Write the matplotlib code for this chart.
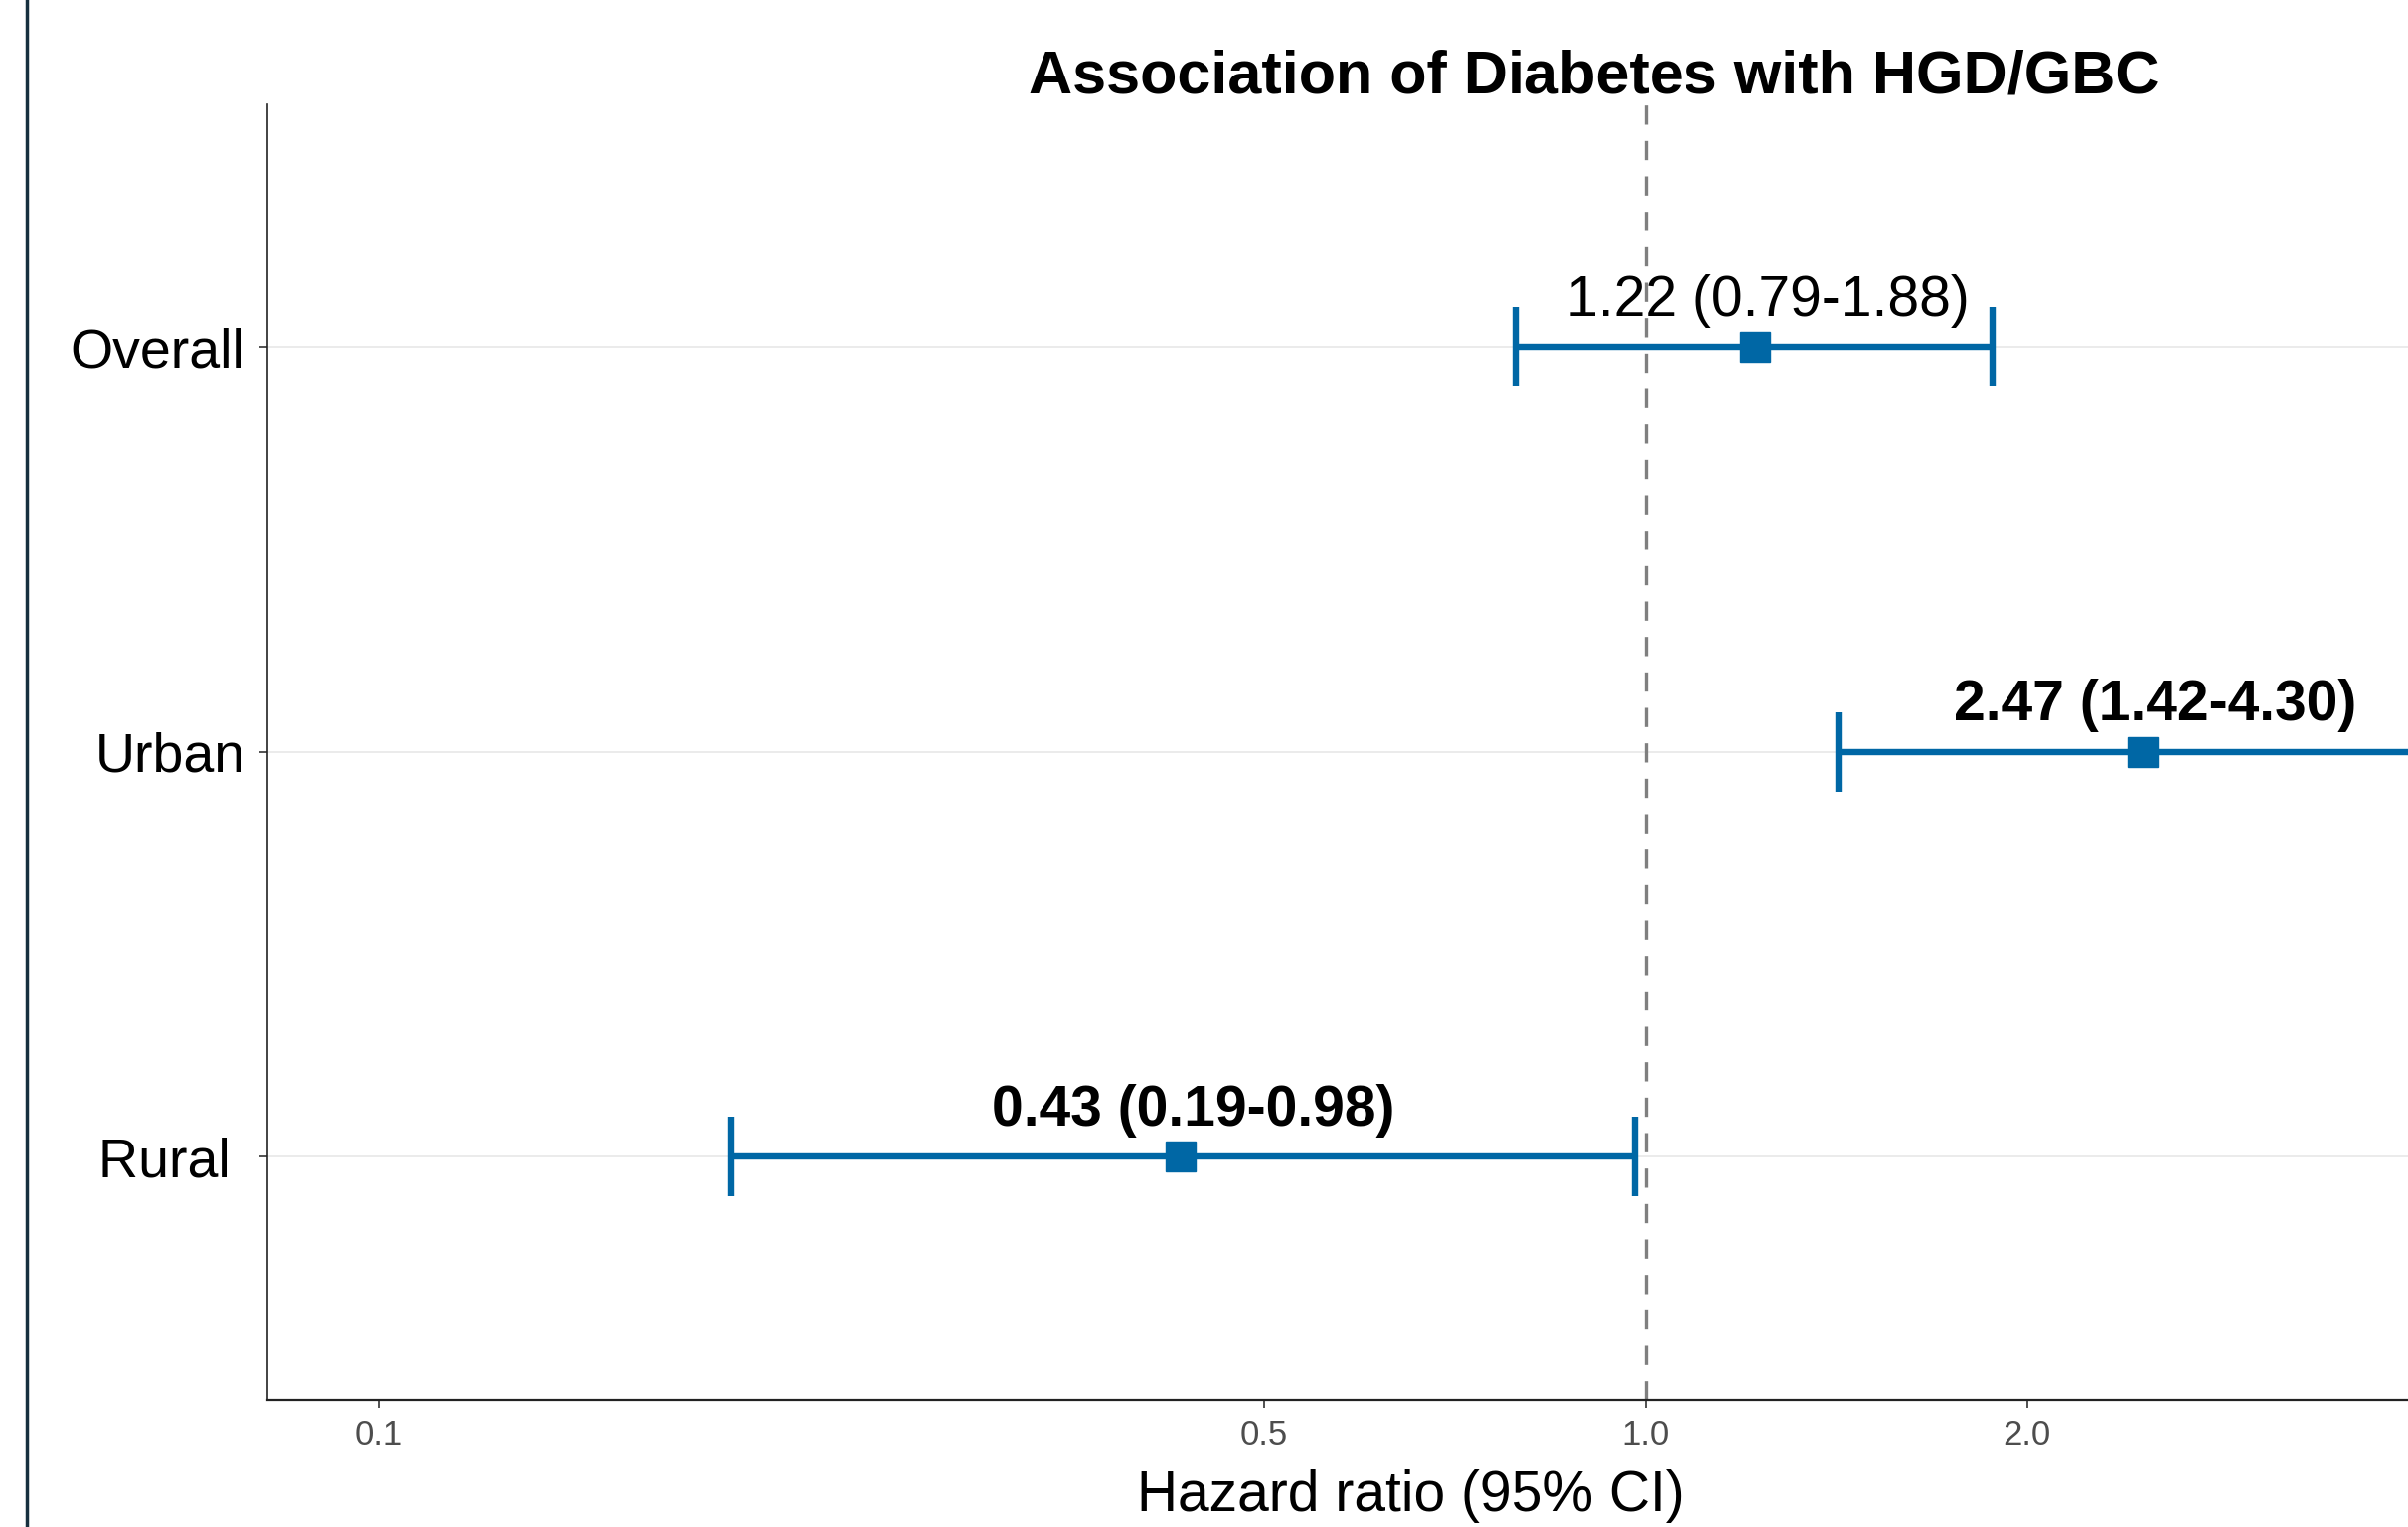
import numpy as np
import matplotlib
matplotlib.use('Agg')
import matplotlib.pyplot as plt
from matplotlib.lines import Line2D

plt.rcParams['font.family'] = ['Liberation Sans', 'DejaVu Sans']

# forest plot data
groups = ['Overall', 'Urban', 'Rural ']
hr = [1.22, 2.47, 0.43]
lower = [0.79, 1.42, 0.19]
upper = [1.88, 4.30, 0.98]
bold = [False, True, True]
xticks = [0.1, 0.5, 1.0, 2.0]
xtick_labels = ['0.1', '0.5', '1.0', '2.0']

blue = '#0067A5'

fig = plt.figure(figsize=(24.23, 15.37), dpi=100)
# axes runs past the right edge on purpose (original figure is cropped)
ax = fig.add_axes([0.111, 0.0833, 0.9818, 0.8484])

ypos = np.arange(len(groups))[::-1] + 1  # Overall on top

ax.set_xscale('log')
ax.set_xlim(0.0817, 6.0)
ax.set_ylim(0.4, 3.6)

for y in ypos:
    ax.axhline(y, color='#EBEBEB', lw=1.4, zorder=0)

ax.axvline(1.0, color='#7F7F7F', lw=2.4, linestyle=(0, (5.8, 4.9)), zorder=1)

hr_a = np.array(hr)
err = np.vstack([hr_a - np.array(lower), np.array(upper) - hr_a])
ax.errorbar(hr, ypos, xerr=err, fmt='s', color=blue, ms=21, lw=4.6,
            capsize=29, capthick=4.6, zorder=3)

for h, lo, up, y, b in zip(hr, lower, upper, ypos, bold):
    ax.annotate(f'{h:.2f} ({lo:.2f}-{up:.2f})', xy=(h, y),
                xytext=(9, 23), textcoords='offset points',
                ha='center', va='baseline', fontsize=41,
                fontweight='bold' if b else 'normal', color='black',
                annotation_clip=False)

ax.set_yticks(ypos)
ax.set_yticklabels(groups, fontsize=40, color='black')
ax.set_xticks(xticks)
ax.set_xticklabels(xtick_labels, fontsize=25, color='#4D4D4D')
ax.xaxis.set_minor_locator(matplotlib.ticker.NullLocator())
ax.tick_params(axis='y', length=6, width=1.2, color='#333333', pad=10)
ax.tick_params(axis='x', length=6, width=1.2, color='#333333', pad=8)

for s in ['top', 'right']:
    ax.spines[s].set_visible(False)
ax.spines['left'].set_linewidth(1.2)
ax.spines['bottom'].set_linewidth(1.6)
ax.spines['left'].set_color('#222222')
ax.spines['bottom'].set_color('#222222')

ax.set_xlabel('Hazard ratio (95% CI)', fontsize=41)
ax.xaxis.set_label_coords(1419 / 2423, 1 - 1506 / 1537, transform=fig.transFigure)
ax.xaxis.label.set_va('center')

fig.text(1604 / 2423, 1 - 78 / 1537, 'Association of Diabetes with HGD/GBC',
         ha='center', va='center', fontsize=44, fontweight='bold')

# dark rule at the left edge of the image
fig.add_artist(Line2D([27 / 2423, 27 / 2423], [0, 1], transform=fig.transFigure,
                      color='#17303F', lw=2.5))

fig.savefig('out.png', dpi=100)
